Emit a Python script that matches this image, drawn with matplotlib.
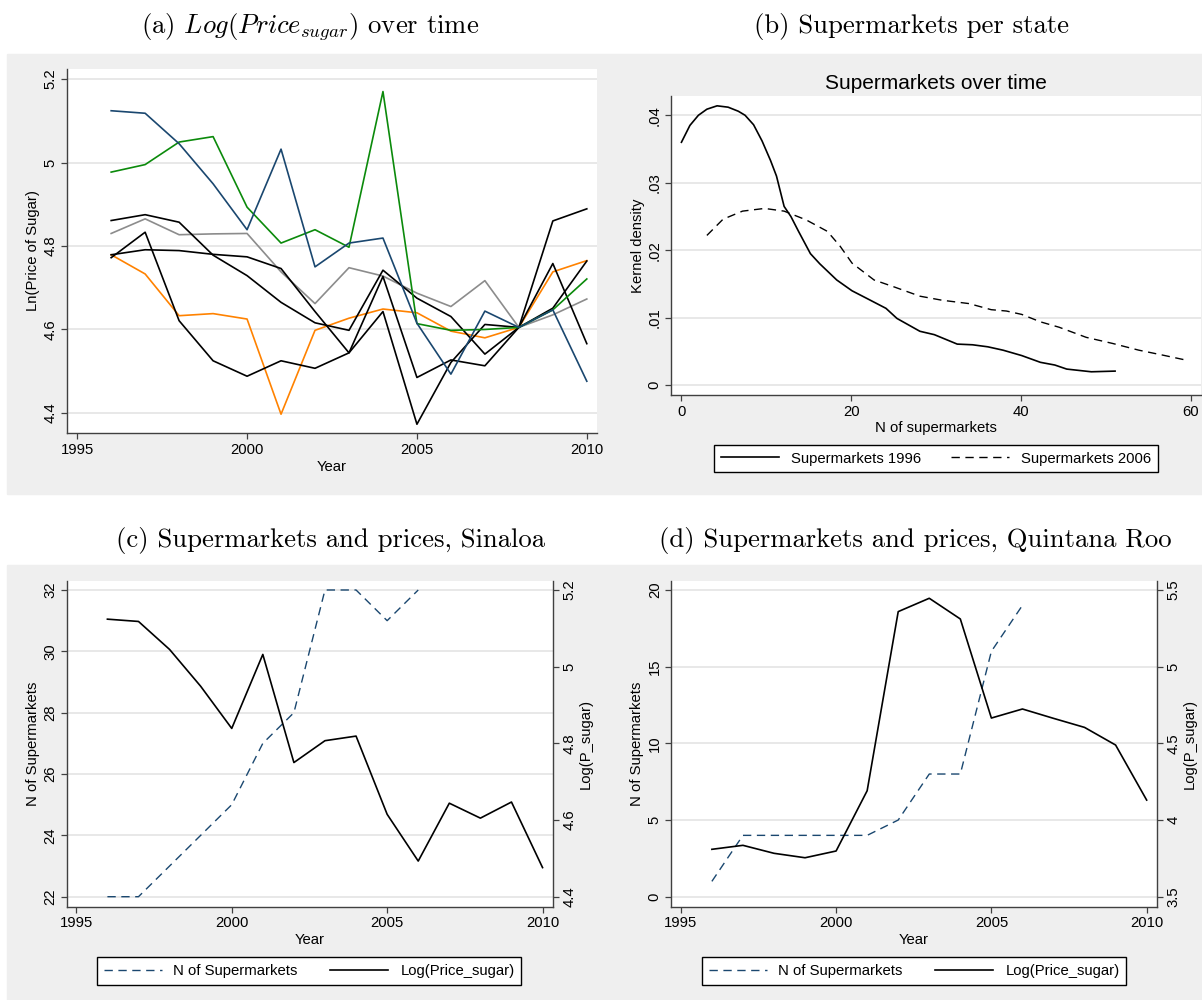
import matplotlib
matplotlib.use('Agg')
import matplotlib.pyplot as plt
from matplotlib.patches import Rectangle
from matplotlib.ticker import FixedLocator

plt.rcParams['font.family'] = ['Liberation Sans', 'DejaVu Sans']
plt.rcParams['mathtext.fontset'] = 'cm'

# ---- data ----
years = list(range(1996, 2011))

# panel (a): log sugar price by state (one line per state)
price_sinaloa = [5.124, 5.118, 5.045, 4.949, 4.839, 5.032, 4.750, 4.807, 4.819, 4.615, 4.493, 4.644, 4.605, 4.647, 4.476]
price_green = [4.977, 4.995, 5.049, 5.062, 4.893, 4.807, 4.839, 4.797, 5.170, 4.614, 4.598, 4.600, 4.605, 4.647, 4.721]
price_gray = [4.830, 4.865, 4.827, 4.829, 4.830, 4.738, 4.662, 4.748, 4.728, 4.687, 4.655, 4.717, 4.605, 4.635, 4.673]
price_orange = [4.779, 4.733, 4.633, 4.638, 4.625, 4.397, 4.598, 4.627, 4.649, 4.640, 4.596, 4.580, 4.605, 4.738, 4.765]
price_black1 = [4.861, 4.875, 4.857, 4.778, 4.729, 4.665, 4.616, 4.598, 4.742, 4.675, 4.631, 4.541, 4.605, 4.860, 4.889]
price_black2 = [4.779, 4.791, 4.789, 4.780, 4.774, 4.746, 4.643, 4.544, 4.727, 4.485, 4.527, 4.513, 4.605, 4.758, 4.566]
price_black3 = [4.772, 4.833, 4.621, 4.525, 4.488, 4.525, 4.507, 4.544, 4.643, 4.373, 4.521, 4.612, 4.605, 4.651, 4.764]

# panel (b): kernel densities
kd_x_1996 = [0, 1, 2, 3, 4.2, 5.5, 6.7, 7.5, 8.5, 9.5, 10.5, 11.2, 12.1, 12.9, 13.8, 15.2, 16.3, 18.3, 20.1,
             21.8, 24.1, 25.4, 28.1, 29.8, 32.5, 34.3, 36.1, 37.9, 40.1, 42.3, 44.0, 45.4, 48.3, 51.1]
kd_y_1996 = [0.0360, 0.0385, 0.0400, 0.0409, 0.0414, 0.0412, 0.0406, 0.0400, 0.0386, 0.0362, 0.0333, 0.0310,
             0.0265, 0.0250, 0.0228, 0.0195, 0.0180, 0.0156, 0.0140, 0.0129, 0.0114, 0.0099, 0.0080, 0.0075,
             0.0061, 0.0060, 0.0057, 0.0052, 0.0044, 0.0034, 0.0030, 0.0024, 0.0020, 0.0021]
kd_x_2006 = [3.0, 4.9, 7.2, 9.8, 12.1, 14.7, 17.2, 18.7, 20.1, 22.7, 25.0, 28.1, 30.7, 33.9, 36.5, 38.3, 40.1,
             42.3, 44.5, 47.7, 50.8, 53.9, 56.6, 59.2]
kd_y_2006 = [0.0222, 0.0246, 0.0258, 0.0262, 0.0258, 0.0245, 0.0228, 0.0206, 0.0181, 0.0156, 0.0146, 0.0132,
             0.0126, 0.0121, 0.0112, 0.0110, 0.0105, 0.0094, 0.0086, 0.0071, 0.0062, 0.0052, 0.0045, 0.0038]

# panels (c) and (d)
sm_years = list(range(1996, 2007))
sinaloa_supermarkets = [22, 22, 23, 24, 25, 27, 28, 32, 32, 31, 32]
qroo_supermarkets = [1, 4, 4, 4, 4, 4, 5, 8, 8, 16, 19]
price_qroo = [3.809, 3.835, 3.783, 3.754, 3.798, 4.191, 5.359, 5.446, 5.311, 4.665, 4.724, 4.663, 4.604, 4.489, 4.130]

NAVY = '#1a476f'
BG = '#efefef'
GRID = '#e6e6e6'
AXC = '#404040'
FS = 10.7
TFS = 19.2
DASH = (0, (6, 4))

fig = plt.figure(figsize=(12.02, 10.0), dpi=100)
W, H = 1202.0, 1000.0

def px_axes(left, right, top, bottom):
    return fig.add_axes([left / W, 1 - bottom / H, (right - left) / W, (bottom - top) / H])

# gray graph regions, behind the axes
fig.patches.append(Rectangle((7 / W, 1 - 494 / H), (W - 7) / W, (494 - 54) / H,
                             transform=fig.transFigure, color=BG, zorder=-10))
fig.patches.append(Rectangle((7 / W, 0), (W - 7) / W, (1000 - 565) / H,
                             transform=fig.transFigure, color=BG, zorder=-10))

def style(ax, yticks, ylabels, xticks, xlabels):
    for s in ['top', 'right']:
        ax.spines[s].set_visible(False)
    for s in ['left', 'bottom']:
        ax.spines[s].set_color(AXC)
        ax.spines[s].set_linewidth(1.0)
    ax.yaxis.set_major_locator(FixedLocator(yticks))
    ax.set_yticklabels(ylabels, rotation=90, va='center', fontsize=FS)
    ax.set_xticks(xticks)
    ax.set_xticklabels(xlabels, fontsize=FS)
    ax.tick_params(direction='out', length=4, width=0.9, color=AXC, pad=3)
    ax.grid(axis='y', color=GRID, lw=1.3)
    ax.set_axisbelow(True)

def set_labels(ax, xlabel, xy, ylabel, yx):
    ax.set_xlabel(xlabel, fontsize=FS)
    ax.xaxis.set_label_coords(0.5, xy)
    ax.xaxis.label.set_va('center')
    ax.set_ylabel(ylabel, fontsize=FS)
    ax.yaxis.set_label_coords(yx, 0.5)
    ax.yaxis.label.set_va('center')

def style_right(ax2, yticks, ylabels, label, lx):
    for s in ['top', 'left', 'bottom']:
        ax2.spines[s].set_visible(False)
    ax2.spines['right'].set_color(AXC)
    ax2.spines['right'].set_linewidth(1.0)
    ax2.yaxis.set_major_locator(FixedLocator(yticks))
    ax2.set_yticklabels(ylabels, rotation=90, va='center', fontsize=FS)
    ax2.tick_params(direction='out', length=4, width=0.9, color=AXC, pad=3)
    ax2.set_ylabel(label, fontsize=FS)
    ax2.yaxis.set_label_coords(lx, 0.5)
    ax2.yaxis.label.set_va('center')

year_ticks = [1995, 2000, 2005, 2010]
year_labels = ['1995', '2000', '2005', '2010']

# panel titles (LaTeX-like captions)
fig.text(310 / W, 1 - 27 / H, r'(a) $Log(Price_{sugar})$ over time', family='cmr10', fontsize=TFS, ha='center', va='center')
fig.text(912 / W, 1 - 27 / H, '(b) Supermarkets per state', family='cmr10', fontsize=TFS, ha='center', va='center')
fig.text(330 / W, 1 - 540 / H, '(c) Supermarkets and prices, Sinaloa', family='cmr10', fontsize=TFS, ha='center', va='center')
fig.text(915 / W, 1 - 540 / H, '(d) Supermarkets and prices, Quintana Roo', family='cmr10', fontsize=TFS, ha='center', va='center')

# ---- (a) ----
ax = px_axes(67, 597, 69, 433)
ax.plot(years, price_gray, color='#8c8c8c', lw=1.2)
ax.plot(years, price_orange, color='#ff8200', lw=1.2)
ax.plot(years, price_black1, color='black', lw=1.2)
ax.plot(years, price_black2, color='black', lw=1.2)
ax.plot(years, price_black3, color='black', lw=1.2)
ax.plot(years, price_green, color='#0b8a0b', lw=1.2)
ax.plot(years, price_sinaloa, color=NAVY, lw=1.2)
ax.set_xlim(1994.7, 2010.3)
ax.set_ylim(4.352, 5.224)
style(ax, [4.4, 4.6, 4.8, 5.0, 5.2], ['4.4', '4.6', '4.8', '5', '5.2'], year_ticks, year_labels)
set_labels(ax, 'Year', -0.093, 'Ln(Price of Sugar)', -0.064)

# ---- (b) ----
ax = px_axes(671.5, 1200.8, 95.7, 395)
l1, = ax.plot(kd_x_1996, kd_y_1996, color='black', lw=1.2, label='Supermarkets 1996')
l2, = ax.plot(kd_x_2006, kd_y_2006, color='black', lw=1.0, ls=DASH, label='Supermarkets 2006')
ax.set_xlim(-1.17, 61.2)
ax.set_ylim(-0.00144, 0.0429)
style(ax, [0, 0.01, 0.02, 0.03, 0.04], ['0', '.01', '.02', '.03', '.04'], [0, 20, 40, 60], ['0', '20', '40', '60'])
ax.set_title('Supermarkets over time', fontsize=15, pad=5)
set_labels(ax, 'N of supermarkets', -0.110, 'Kernel density', -0.0633)
ax.legend(handles=[l1, l2], loc='center', bbox_to_anchor=(936 / W, 1 - 458.5 / H), bbox_transform=fig.transFigure,
          ncol=2, fontsize=FS, frameon=True, fancybox=False, edgecolor='black', framealpha=1,
          handlelength=3.9, columnspacing=2.0, borderpad=0.45, handletextpad=0.8)

# ---- (c) and (d) ----
def twin_panel(left, right, n, price, nlim, nticks, plim, pticks, plabels, legx):
    ax = px_axes(left, right, 580.7, 906.7)
    ax2 = ax.twinx()
    ln1, = ax.plot(sm_years, n, color=NAVY, lw=1.0, ls=DASH, label='N of Supermarkets')
    ln2, = ax2.plot(years, price, color='black', lw=1.2, label='Log(Price_sugar)')
    ax.set_xlim(1994.7, 2010.32)
    ax.set_ylim(*nlim)
    ax2.set_ylim(*plim)
    style(ax, nticks, [str(t) for t in nticks], year_ticks, year_labels)
    style_right(ax2, pticks, plabels, 'Log(P_sugar)', 1.068)
    set_labels(ax, 'Year', -0.102, 'N of Supermarkets', -0.071)
    ax2.legend(handles=[ln1, ln2], loc='center', bbox_to_anchor=(legx / W, 1 - 971 / H), bbox_transform=fig.transFigure,
               ncol=2, fontsize=FS, frameon=True, fancybox=False, edgecolor='black', framealpha=1,
               handlelength=3.9, columnspacing=2.2, borderpad=0.45, handletextpad=0.8)

twin_panel(67, 552.5, sinaloa_supermarkets, price_sinaloa, (21.674, 32.303), [22, 24, 26, 28, 30, 32],
           (4.374, 5.2243), [4.4, 4.6, 4.8, 5.0, 5.2], ['4.4', '4.6', '4.8', '5', '5.2'], 309)
twin_panel(671.5, 1156.6, qroo_supermarkets, price_qroo, (-0.652, 20.607), [0, 5, 10, 15, 20],
           (3.4348, 5.5606), [3.5, 4.0, 4.5, 5.0, 5.5], ['3.5', '4', '4.5', '5', '5.5'], 914)

fig.savefig('out.png', dpi=100, facecolor='white')
